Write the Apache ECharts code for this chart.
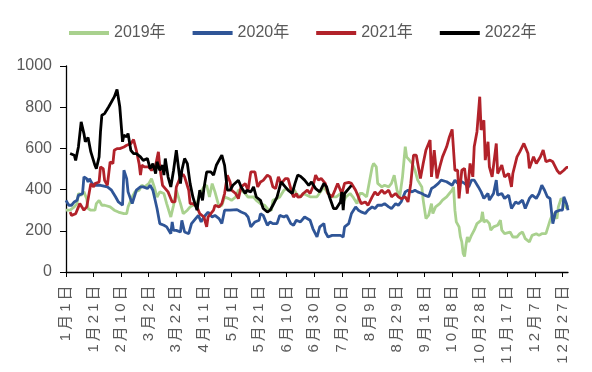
<!DOCTYPE html>
<html><head><meta charset="utf-8">
<script src="https://cdn.jsdelivr.net/npm/echarts@6/dist/echarts.min.js"></script>
<style>html,body{margin:0;padding:0;background:#fff}#c{width:592px;height:372px}</style>
</head><body><div id="c"></div>
<script>
const monthDays = [31,28,31,30,31,30,31,31,30,31,30,31];
const seriesNames = ['2019年','2020年','2021年','2022年'];

const days2019 = [0,3,6,8,9,11,13,15,16,18,21,22,24,26,28,32,35,38,42,44,45,48,50,53,55,57,60,62,64,66,68,71,73,76,78,80,83,85,88,90,92,95,97,100,102,104,106,108,111,113,115,118,120,123,125,127,130,132,136,138,141,144,147,149,150,153,155,158,160,162,165,167,170,172,177,182,187,190,193,196,199,201,203,206,208,211,213,215,218,220,222,223,225,226,229,231,234,236,238,240,242,244,246,247,249,251,253,255,258,259,261,263,265,266,268,271,273,276,278,280,281,282,283,285,286,287,288,289,290,291,292,294,296,298,301,302,303,305,307,308,310,313,315,316,318,322,324,327,329,331,333,336,338,341,343,345,348,351,353,356,357,359,361,363,364];
const vals2019 = [300,300,316,332,381,372,389,356,308,300,300,332,348,324,324,316,300,291,283,283,316,364,389,397,421,413,429,453,413,364,389,381,332,267,324,397,332,283,300,316,324,332,381,413,421,364,429,389,316,324,364,356,348,364,397,397,381,364,364,348,332,324,300,300,348,356,364,397,405,397,405,381,364,381,365,365,413,381,365,365,381,340,365,381,365,332,381,381,365,438,510,527,510,430,413,421,413,430,470,397,365,462,608,559,543,527,494,446,413,349,259,276,332,284,316,332,349,365,381,397,413,300,243,219,170,146,90,75,130,170,146,178,203,235,251,292,243,251,235,203,219,227,251,203,186,194,170,170,186,194,162,146,178,186,178,186,186,251,284,259,316,357,340,308,324];

const days2020 = [0,2,4,6,8,9,12,13,15,16,17,19,21,25,30,33,36,38,41,42,44,45,48,49,51,54,56,59,61,63,66,68,71,73,76,77,78,80,83,84,86,89,91,94,96,98,100,103,106,108,111,113,115,119,124,127,130,132,134,137,140,141,143,146,148,150,153,155,158,160,163,165,167,170,173,177,179,182,184,187,188,190,193,196,199,201,202,205,207,210,212,214,217,219,222,224,226,229,231,234,236,239,241,243,246,248,251,253,255,258,260,263,265,267,270,272,276,280,282,284,287,289,292,294,296,299,301,303,306,307,310,312,313,316,318,321,323,326,328,331,333,336,338,341,343,345,347,349,351,353,355,358,360,361,363,364];
const vals2020 = [348,324,324,340,348,372,381,462,453,437,453,429,421,421,413,397,364,340,324,494,453,389,332,324,397,413,413,405,421,397,308,235,227,219,186,243,202,202,194,251,194,186,235,259,275,243,267,291,267,275,259,235,300,300,303,291,283,267,219,243,251,283,275,227,243,235,235,275,267,275,235,227,251,243,267,251,211,170,219,235,194,170,178,178,178,170,219,235,284,316,300,292,284,300,316,308,324,324,332,316,308,332,324,340,389,397,389,397,389,381,373,365,405,413,430,446,438,421,446,430,438,430,413,446,446,413,389,357,381,349,381,446,373,381,357,373,308,340,332,349,308,357,373,357,381,421,397,365,357,235,292,300,300,365,330,300];

const days2021 = [3,4,7,8,10,13,15,16,18,20,21,24,25,27,28,30,32,34,35,37,39,42,44,47,49,50,51,53,54,55,57,60,62,65,67,68,70,72,74,77,79,80,83,85,86,89,90,92,95,97,100,102,103,105,107,108,111,113,115,117,119,120,123,125,127,130,132,134,137,139,141,143,146,148,150,152,154,156,159,161,164,165,167,168,170,172,175,177,179,181,183,185,188,190,193,195,197,200,202,205,207,210,212,214,217,219,222,224,226,229,231,234,236,239,241,243,246,248,250,252,254,255,257,259,261,264,265,267,269,271,273,276,278,280,282,284,285,287,289,291,293,295,296,298,300,301,303,304,306,307,309,310,312,313,316,318,321,323,324,327,329,332,335,336,339,341,344,346,348,351,353,356,358,361,363,364];
const vals2021 = [291,275,283,283,332,300,316,324,429,413,429,437,510,502,445,421,535,526,591,599,599,607,615,623,643,648,591,526,470,518,510,510,494,518,583,510,421,405,389,340,340,413,462,474,462,397,332,332,316,283,267,219,267,283,300,324,316,332,381,470,437,397,381,356,413,429,397,486,486,413,437,445,470,462,413,405,462,429,453,453,381,364,381,364,365,381,397,381,413,470,446,454,430,381,365,397,430,381,430,435,430,397,365,332,340,324,365,389,373,397,381,397,365,381,365,356,365,340,430,567,567,559,454,527,592,640,462,592,454,510,559,608,656,692,494,494,357,494,503,381,527,462,608,681,851,689,737,543,632,510,462,462,624,478,519,462,478,413,478,559,583,624,575,503,559,527,559,592,535,543,535,494,478,494,508,508];

const days2022 = [3,6,7,9,11,13,14,16,18,19,21,22,24,25,26,28,31,35,37,39,40,41,42,44,45,47,49,51,54,56,59,61,63,65,66,68,70,71,72,74,76,78,80,83,84,86,88,90,92,95,97,99,100,102,105,107,109,113,115,117,119,121,125,127,130,131,134,136,138,141,143,146,148,150,153,156,159,161,164,166,168,170,173,176,178,181,184,187,189,191,194,196,199,200,201,202,205,207];
const vals2022 = [575,567,542,607,729,672,632,653,583,591,518,502,559,680,761,769,802,850,886,802,794,632,664,656,672,591,575,575,559,542,551,502,526,478,535,494,518,470,551,462,413,494,591,429,494,551,526,429,364,300,397,348,405,486,486,470,518,567,518,397,397,421,445,413,381,397,389,413,364,348,308,291,300,324,364,437,413,397,381,429,470,465,446,421,437,405,389,430,413,365,308,308,340,389,300,381,405,421];

const yTicks = {min:0, max:1000, interval:200};
const colors = ['#A9D18E','#2F5597','#B2222A','#000000'];

const categories = [];
monthDays.forEach((n,m)=>{ for(let d=1; d<=n; d++) categories.push((m+1)+'月'+d+'日'); });

const pairs = (ds, vs) => ds.map((d,i)=>[d, vs[i]]);
const allData = [pairs(days2019,vals2019), pairs(days2020,vals2020), pairs(days2021,vals2021), pairs(days2022,vals2022)];

const font = '"Liberation Sans", "Noto Sans CJK SC", sans-serif';
const chart = echarts.init(document.getElementById('c'), null, {renderer:'canvas'});
chart.setOption({
  animation:false,
  color: colors,
  textStyle:{fontFamily:font},
  legend:{
    top: 20, left: 64,
    itemWidth: 40, itemHeight: 4, itemGap: 27,
    icon: 'rect',
    textStyle:{fontSize:16, color:'#595959', fontFamily:font},
    data: seriesNames
  },
  grid:{left:66, right:24, top:66, bottom:100, containLabel:false},
  xAxis:{
    type:'category', data: categories, boundaryGap:false,
    axisLine:{show:true, lineStyle:{color:'#000', width:1.3}},
    axisTick:{show:true, interval:19, length:5, lineStyle:{color:'#000'}},
    axisLabel:{
      interval:19, rotate:90, margin:12, color:'#595959', fontSize:15, fontFamily:font,
      formatter: v => v.split('').map(ch => '{s|' + ch + '}').join(''),
      rich:{ s:{fontSize:15, color:'#595959', fontFamily:font, padding:[0,1.5,0,1.5]} }
    },
    splitLine:{show:false}
  },
  yAxis:{
    type:'value', min:yTicks.min, max:yTicks.max, interval:yTicks.interval,
    axisLine:{show:true, lineStyle:{color:'#000', width:1.3}},
    axisTick:{show:true, length:6, lineStyle:{color:'#000'}},
    axisLabel:{fontSize:16, color:'#595959', margin:14, fontFamily:font, formatter: v => String(v)},
    splitLine:{show:false}
  },
  series: seriesNames.map((n,i)=>({
    name:n, type:'line', data: allData[i], showSymbol:false, symbol:'none',
    lineStyle:{width:2.8, color:colors[i]}, itemStyle:{color:colors[i]}
  }))
});
</script></body></html>
